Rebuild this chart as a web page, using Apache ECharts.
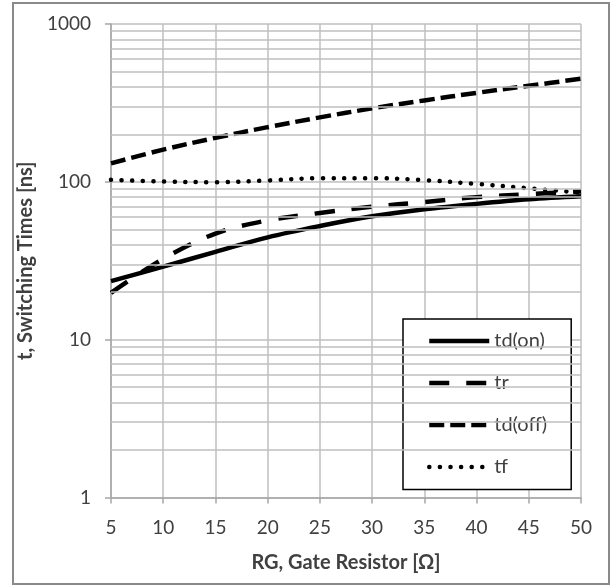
<!DOCTYPE html>
<html>
<head>
<meta charset="utf-8">
<script src="https://cdn.jsdelivr.net/npm/echarts@6/dist/echarts.min.js"></script>
<style>
html,body{margin:0;padding:0;background:#fff;}
#chart{width:612px;height:586px;}
</style>
</head>
<body>
<div id="chart"></div>
<script>
// Data
var rg = [5, 10, 15, 20, 25, 30, 35, 40, 45, 50];
var tdOn = [23.5, 29, 36, 44.5, 52.5, 60.5, 67, 72.5, 77.5, 81];
var tr = [19.8, 32.5, 47, 57, 63.5, 69.5, 74.5, 80, 83.5, 87];
var tdOff = [131, 160, 190, 222, 256, 292, 328, 366, 406, 450];
var tf = [103, 100.5, 99.5, 102, 105.5, 105.5, 102.5, 97, 91, 85.5];
var seriesNames = ['td(on)', 'tr', 'td(off)', 'tf'];
var minorGridValues = [2, 3, 4, 5, 6, 7, 8, 9, 20, 30, 40, 50, 60, 70, 80, 90, 200, 300, 400, 500, 600, 700, 800, 900];
var xTitle = 'RG, Gate Resistor [Ω]';
var yTitle = 't, Switching Times [ns]';

function pairs(xs, ys) { return xs.map(function (x, i) { return [x, ys[i]]; }); }

var FONT = 'Lato';
var GRID = '#bfbfbf';
var TXT = '#404040';

var chart = echarts.init(document.getElementById('chart'), null, {renderer: 'canvas'});

function lineSeries(name, ys, type, cap) {
  return {
    name: name, type: 'line', data: pairs(rg, ys), smooth: 0.35,
    symbol: 'none', showSymbol: false, z: 3, animation: false,
    lineStyle: {color: '#000', width: 4.5, type: type, cap: cap || 'butt', opacity: 1},
    itemStyle: {color: '#000'}
  };
}

var option = {
  animation: false,
  backgroundColor: '#fff',
  textStyle: {fontFamily: FONT},
  grid: {left: 111, right: 31, top: 24, bottom: 88.5, containLabel: false},
  graphic: [{
    type: 'rect', shape: {x: 13, y: 3, width: 596, height: 581},
    style: {fill: 'none', stroke: '#8a8a8a', lineWidth: 2}, z: -1, silent: true
  }],
  legend: {
    data: seriesNames, orient: 'vertical', left: 403, top: 319,
    itemWidth: 60, itemHeight: 14, itemGap: 22,
    padding: [12, 24, 12.5, 24],
    backgroundColor: '#fff', borderColor: '#000', borderWidth: 1.5,
    textStyle: {fontFamily: FONT, fontSize: 20, color: TXT},
    lineStyle: {width: 4.5, color: '#000', opacity: 1},
    itemStyle: {opacity: 0},
    selectedMode: false
  },
  xAxis: {
    type: 'value', min: 5, max: 50, interval: 5,
    name: xTitle, nameLocation: 'middle', nameGap: 55.5,
    nameTextStyle: {fontFamily: FONT, fontSize: 20, fontWeight: 'bold', color: TXT},
    axisLine: {show: true, lineStyle: {color: '#a6a6a6', width: 1.5}},
    axisTick: {show: true, length: 6, lineStyle: {color: '#a6a6a6', width: 1.5}},
    axisLabel: {fontFamily: FONT, fontSize: 19, color: TXT, margin: 20.5},
    splitLine: {show: true, lineStyle: {color: GRID, width: 1.5}}
  },
  yAxis: {
    type: 'log', logBase: 10, min: 1, max: 1000,
    name: yTitle, nameLocation: 'middle', nameGap: 64,
    nameTextStyle: {fontFamily: FONT, fontSize: 20, fontWeight: 'bold', color: TXT},
    axisLine: {show: true, lineStyle: {color: '#a6a6a6', width: 1.5}},
    axisTick: {show: true, length: 6, lineStyle: {color: '#a6a6a6', width: 1.5}},
    axisLabel: {fontFamily: FONT, fontSize: 19, color: TXT, margin: 20,
      formatter: function (v) { return String(Math.round(v)); }},
    splitLine: {show: true, lineStyle: {color: GRID, width: 1.5}}
  },
  series: [
    {
      name: 'grid-minor', type: 'line', data: [], z: 1, silent: true, animation: false,
      markLine: {
        silent: true, symbol: ['none', 'none'], animation: false,
        label: {show: false},
        lineStyle: {color: GRID, width: 1.5, type: 'solid'},
        data: minorGridValues.map(function (v) { return {yAxis: v}; })
      }
    },
    lineSeries(seriesNames[0], tdOn, 'solid'),
    lineSeries(seriesNames[1], tr, [20, 17]),
    lineSeries(seriesNames[2], tdOff, [15, 6]),
    lineSeries(seriesNames[3], tf, [0.1, 10.5], 'round')
  ]
};
chart.setOption(option);
</script>
</body>
</html>
